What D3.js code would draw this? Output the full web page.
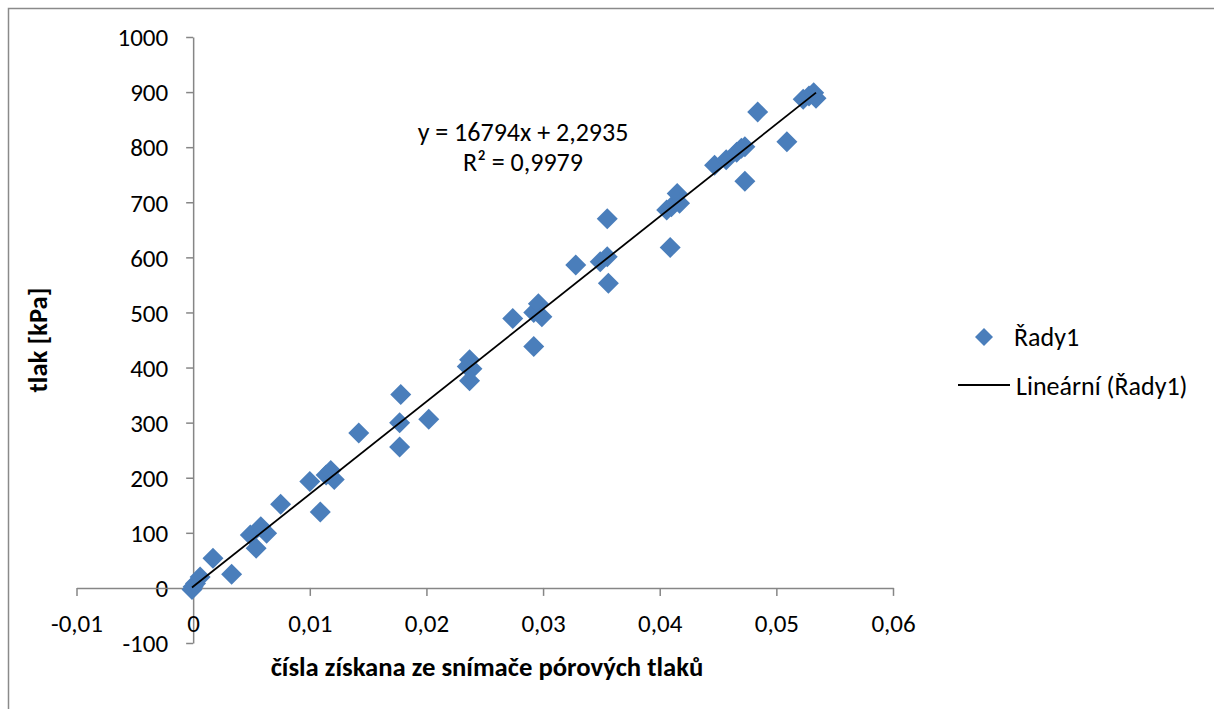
<!DOCTYPE html>
<html><head><meta charset="utf-8">
<script src="https://cdn.jsdelivr.net/npm/d3@7"></script>
<style>
html,body{margin:0;padding:0;background:#fff;overflow:hidden}
text{font-family:Carlito,Lato,"Noto Sans",sans-serif;fill:#000}
</style></head>
<body><svg id="c" width="1214" height="709"></svg>
<script>
// ---- data ----
const xValues = [0, -0.0001, 0.0002, 0.0006, 0.0017, 0.0033, 0.0049, 0.0054, 0.0058, 0.0063,
  0.0075, 0.0100, 0.0109, 0.0114, 0.0118, 0.0121, 0.0142, 0.0177, 0.0177, 0.0178,
  0.0202, 0.0235, 0.0237, 0.0239, 0.0237, 0.0274, 0.0292, 0.0292, 0.0296, 0.0299,
  0.0328, 0.0349, 0.0355, 0.0355, 0.0356, 0.0406, 0.0409, 0.0410, 0.0415, 0.0417,
  0.0447, 0.0457, 0.0466, 0.0470, 0.0473, 0.0473, 0.0484, 0.0509, 0.0523, 0.0528,
  0.0532, 0.0534];
const yValues = [2, -3, 8, 20, 54, 25, 96, 72, 111, 99,
  152, 193, 138, 205, 213, 197, 281, 300, 256, 351,
  306, 402, 414, 398, 376, 489, 438, 500, 516, 492,
  586, 592, 670, 601, 553, 686, 618, 692, 716, 698,
  767, 777, 791, 798, 801, 738, 864, 810, 887, 893,
  899, 889];
const xTicks = [-0.01, 0, 0.01, 0.02, 0.03, 0.04, 0.05, 0.06];
const yTicks = [-100, 0, 100, 200, 300, 400, 500, 600, 700, 800, 900, 1000];
const trendSlope = 16794;
const trendIntercept = 2.2935;
const equationLines = ["y = 16794x + 2,2935", "R² = 0,9979"];
const seriesName = "Řady1";
const trendName = "Lineární (Řady1)";
const xTitle = "čísla získana ze snímače pórových tlaků";
const yTitle = "tlak [kPa]";

// ---- drawing ----
const svg = d3.select("#c");
const axisColor = "#868686";
const markColor = "#4a7ebb";
const FS = "25px", FS2 = "26px", FT = "26.7px";
const fmt = d => d === 0 ? "0" : String(d).replace(".", ",");

const x = d3.scaleLinear().domain([-0.01, 0.06]).range([76.5, 893]);
const y = d3.scaleLinear().domain([-100, 1000]).range([643, 37]);

// outer chart border
svg.append("rect").attr("x", 8.5).attr("y", 8.5).attr("width", 1300).attr("height", 800)
  .attr("fill", "none").attr("stroke", "#8a8a8a").attr("stroke-width", 1.5);

// y axis
const gy = svg.append("g").attr("transform", `translate(${x(0)},0)`)
  .call(d3.axisLeft(y).tickValues(yTicks).tickFormat(fmt).tickSizeInner(7).tickSizeOuter(0).tickPadding(18));
// x axis
const gx = svg.append("g").attr("transform", `translate(0,${y(0)})`)
  .call(d3.axisBottom(x).tickValues(xTicks).tickFormat(fmt).tickSizeInner(8).tickSizeOuter(0));
[gx, gy].forEach(g => {
  g.attr("font-size", null).attr("font-family", null);
  g.selectAll("path,line").attr("stroke", axisColor).attr("stroke-width", 1.5);
  g.selectAll("text").attr("fill", "#000").style("font-size", FS);
});
gx.selectAll("text").attr("y", 35).attr("dy", "0.35em");
gy.selectAll("text").attr("dy", "0.35em");

// points
const pts = d3.zip(xValues, yValues);
const diamond = r => `M0,${-r}L${r},0L0,${r}L${-r},0Z`;
svg.append("g").selectAll("path").data(pts).join("path")
  .attr("d", diamond(10.5))
  .attr("transform", d => `translate(${x(d[0])},${y(d[1])})`)
  .attr("fill", markColor);

// trendline (over the markers)
const x0 = d3.min(xValues), x1 = d3.max(xValues);
svg.append("path")
  .attr("d", d3.line().x(d => x(d)).y(d => y(trendSlope * d + trendIntercept))([x0, x1]))
  .attr("stroke", "#000").attr("stroke-width", 1.8).attr("fill", "none");

// equation
svg.append("text").attr("x", 523).attr("y", 132).attr("dy", "0.35em").attr("text-anchor", "middle")
  .style("font-size", FS2).text(equationLines[0]);
svg.append("text").attr("x", 523).attr("y", 162).attr("dy", "0.35em").attr("text-anchor", "middle")
  .style("font-size", FS2).text(equationLines[1]);

// axis titles
svg.append("text").attr("x", 487).attr("y", 667).attr("dy", "0.35em").attr("text-anchor", "middle")
  .style("font-size", FT).style("font-weight", "bold").text(xTitle);
svg.append("text").attr("transform", "translate(38,340) rotate(-90)").attr("dy", "0.35em")
  .attr("text-anchor", "middle").style("font-size", FT).style("font-weight", "bold").text(yTitle);

// legend
const lg = svg.append("g");
lg.append("path").attr("d", diamond(9)).attr("transform", "translate(984,337)").attr("fill", markColor);
lg.append("text").attr("x", 1014).attr("y", 337).attr("dy", "0.35em").style("font-size", FS2).text(seriesName);
lg.append("line").attr("x1", 958).attr("x2", 1010).attr("y1", 385).attr("y2", 385)
  .attr("stroke", "#000").attr("stroke-width", 1.8);
lg.append("text").attr("x", 1016).attr("y", 386).attr("dy", "0.35em").style("font-size", FS2).text(trendName);
</script></body></html>
